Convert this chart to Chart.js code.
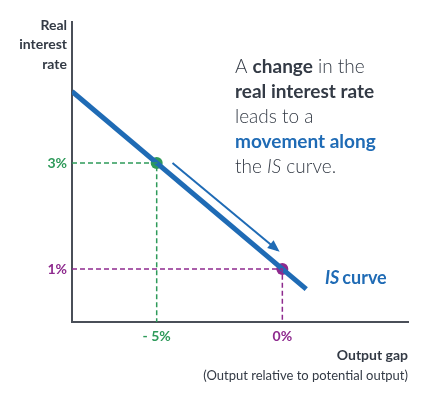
<!DOCTYPE html>
<html><head><meta charset="utf-8">
<script src="https://cdn.jsdelivr.net/npm/chart.js@4"></script>
<style>html,body{margin:0;padding:0;background:#fff}#wrap{width:425px;height:393px}</style>
</head><body><div id="wrap"><canvas id="c" width="425" height="393"></canvas></div>
<script>
const curveX = [-8.37, 0.95];
const curveY = [4.35, 0.62];
const pointX = [-5, 0];
const pointY = [3, 1];
const xTickLabels = ['- 5%', '0%'];
const yTickLabels = ['3%', '1%'];
const arrowX = [-4.37, -0.2];
const arrowY = [3.0, 1.36];
const xMin = -8.37, xMax = 5, yMin = 0, yMax = 5.66;

const BLUE = '#1f6bb5', GREEN = '#2e9a5a', PURPLE = '#8e2a8e', DARK = '#333a45', AXIS = '#4a4f58';
const FONT = 'Lato, "Open Sans", sans-serif';

const pts = (xs, ys) => xs.map((x, i) => ({x, y: ys[i]}));

const guide = (i, color) => ({
  data: [{x: xMin, y: pointY[i]}, {x: pointX[i], y: pointY[i]}, {x: pointX[i], y: yMin}],
  borderColor: color, borderWidth: 1.5, borderDash: [5, 3], pointRadius: 0, showLine: true, fill: false
});

const labelPlugin = {
  id: 'labels',
  afterDatasetsDraw(chart) {
    const {ctx, scales: {x, y}} = chart;
    ctx.save();
    // arrowhead
    const ax0 = x.getPixelForValue(arrowX[0]), ay0 = y.getPixelForValue(arrowY[0]);
    const ax1 = x.getPixelForValue(arrowX[1]), ay1 = y.getPixelForValue(arrowY[1]);
    const ang = Math.atan2(ay1 - ay0, ax1 - ax0);
    ctx.fillStyle = BLUE;
    ctx.beginPath();
    ctx.moveTo(ax1 + 3 * Math.cos(ang), ay1 + 3 * Math.sin(ang));
    ctx.lineTo(ax1 - 9 * Math.cos(ang) + 5 * Math.sin(ang), ay1 - 9 * Math.sin(ang) - 5 * Math.cos(ang));
    ctx.lineTo(ax1 - 9 * Math.cos(ang) - 5 * Math.sin(ang), ay1 - 9 * Math.sin(ang) + 5 * Math.cos(ang));
    ctx.closePath(); ctx.fill();

    // tick labels
    ctx.textBaseline = 'middle';
    ctx.font = 'bold 14px ' + FONT;
    const cols = [GREEN, PURPLE];
    ctx.textAlign = 'right';
    yTickLabels.forEach((t, i) => { ctx.fillStyle = cols[i]; ctx.fillText(t, x.left - 5, y.getPixelForValue(pointY[i])); });
    ctx.textAlign = 'center';
    xTickLabels.forEach((t, i) => { ctx.fillStyle = cols[i]; ctx.fillText(t, x.getPixelForValue(pointX[i]), y.bottom + 14); });

    // axis titles
    ctx.fillStyle = DARK;
    ctx.textAlign = 'right';
    ctx.font = 'bold 14px ' + FONT;
    ['Real', 'interest', 'rate'].forEach((t, i) => ctx.fillText(t, x.left - 5, 25 + i * 19.5));
    ctx.fillText('Output gap', x.right, 355);
    ctx.font = '13px ' + FONT;
    ctx.fillText('(Output relative to potential output)', x.right, 376);

    // IS curve label
    ctx.textAlign = 'left';
    ctx.fillStyle = BLUE;
    let lx = 325;
    ctx.font = 'italic bold 18px ' + FONT;
    ctx.fillText('IS', lx, 278);
    lx += ctx.measureText('IS').width + 3;
    ctx.font = 'bold 18px ' + FONT;
    ctx.fillText('curve', lx, 278);

    // annotation
    const lines = [
      [['A ', 300, DARK, ''], ['change', 700, DARK, ''], [' in the', 300, DARK, '']],
      [['real interest rate', 700, DARK, '']],
      [['leads to a', 300, DARK, '']],
      [['movement along', 700, BLUE, '']],
      [['the ', 300, DARK, ''], ['IS', 300, DARK, 'italic '], [' curve.', 300, DARK, '']]
    ];
    lines.forEach((segs, li) => {
      let px = 235;
      const py = 67 + li * 25;
      segs.forEach(([txt, w, c, st]) => {
        ctx.font = st + w + ' 19px ' + FONT;
        ctx.fillStyle = c;
        ctx.fillText(txt, px, py);
        px += ctx.measureText(txt).width;
      });
    });
    ctx.restore();
  }
};

new Chart(document.getElementById('c'), {
  type: 'scatter',
  data: {
    datasets: [
      guide(0, GREEN),
      guide(1, PURPLE),
      { data: pts(curveX, curveY), borderColor: BLUE, borderWidth: 5, pointRadius: 0, showLine: true, borderCapStyle: 'butt' },
      { data: pts(arrowX, arrowY), borderColor: BLUE, borderWidth: 2, pointRadius: 0, showLine: true },
      { data: pts(pointX, pointY), pointRadius: 6, pointHoverRadius: 6, borderWidth: 0,
        pointBackgroundColor: [GREEN, PURPLE], backgroundColor: [GREEN, PURPLE], showLine: false }
    ]
  },
  options: {
    responsive: false, animation: false, events: [],
    layout: { padding: { left: 72, right: 17, top: 22, bottom: 71 } },
    plugins: { legend: { display: false }, tooltip: { enabled: false } },
    scales: {
      x: { type: 'linear', min: xMin, max: xMax,
           grid: { display: false, drawTicks: false }, ticks: { display: false },
           border: { display: true, color: AXIS, width: 2 } },
      y: { type: 'linear', min: yMin, max: yMax,
           grid: { display: false, drawTicks: false }, ticks: { display: false },
           border: { display: true, color: AXIS, width: 2 } }
    }
  },
  plugins: [labelPlugin]
});
</script></body></html>
